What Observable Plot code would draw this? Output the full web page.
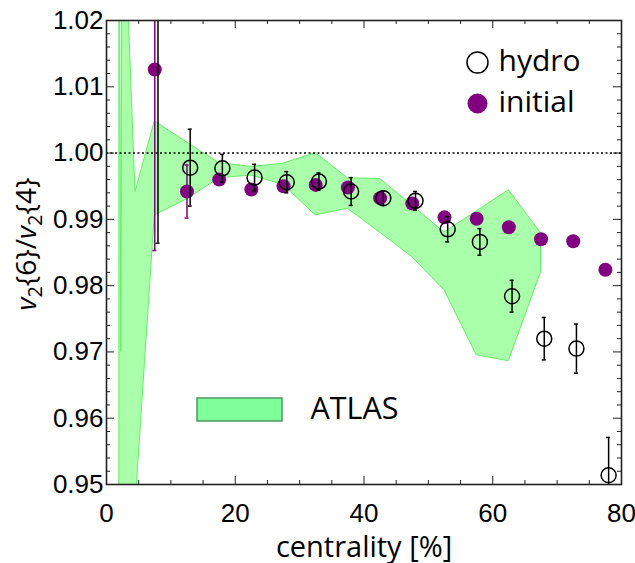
<!DOCTYPE html>
<html><head><meta charset="utf-8">
<script src="https://cdn.jsdelivr.net/npm/d3@7"></script>
<script src="https://cdn.jsdelivr.net/npm/@observablehq/plot@0.6"></script>
<style>body{margin:0;background:#fff} #chart{width:635px;height:563px}</style>
</head><body><div id="chart"></div>
<script>
// ATLAS band (centrality %, lower and upper edge)
const bandX     = [2.0, 2.3, 2.5, 4.5, 7.5, 12.5, 17.5, 22.5, 27.5, 32.5, 37.5, 42.5, 47.5, 52.5, 57.5, 62.5, 67.5];
const bandUpper = [1.06, 0.970, 1.045, 0.9941, 1.0048, 1.0016, 0.9985, 0.9979, 0.9984, 1.0000, 0.9962, 0.9961, 0.9921, 0.9880, 0.9912, 0.9944, 0.9879];
const bandLower = [0.90, 0.905, 0.909, 0.9468, 0.9906, 0.9930, 0.9962, 0.9966, 0.9952, 0.9906, 0.9916, 0.9880, 0.9843, 0.9793, 0.9695, 0.9686, 0.9820];

// hydro (open circles)
const hydroX   = [8, 13, 18, 23, 28, 33, 38, 43, 48, 53, 58, 63, 68, 73, 78];
const hydroY   = [1.032, 0.9978, 0.9977, 0.9963, 0.9956, 0.9957, 0.9942, 0.9932, 0.9928, 0.9885, 0.9866, 0.9784, 0.9720, 0.9705, 0.9514];
const hydroErr = [0.0456, 0.0058, 0.0021, 0.0020, 0.0016, 0.0013, 0.0021, 0.0011, 0.0014, 0.0019, 0.0020, 0.0024, 0.0032, 0.0037, 0.0057];

// initial (filled purple)
const initX   = [7.5, 12.5, 17.5, 22.5, 27.5, 32.5, 37.5, 42.5, 47.5, 52.5, 57.5, 62.5, 67.5, 72.5, 77.5];
const initY   = [1.0126, 0.9942, 0.9960, 0.9945, 0.9950, 0.9952, 0.9948, 0.9932, 0.9924, 0.9903, 0.9901, 0.9888, 0.9870, 0.9867, 0.9824];
const initErr = [0.0273, 0.0040, 0.0008, 0.0007, 0.0006, 0.0005, 0.0006, 0.0005, 0.0004, 0.0004, 0.0003, 0.0003, 0.0003, 0.0003, 0.0003];

// ticks
const xMajor = [0, 20, 40, 60, 80];
const xMinor = [5, 10, 15, 25, 30, 35, 45, 50, 55, 65, 70, 75];
const yMajor = [0.95, 0.96, 0.97, 0.98, 0.99, 1.00, 1.01, 1.02];
const yMinor = [0.952,0.954,0.956,0.958,0.962,0.964,0.966,0.968,0.972,0.974,0.976,0.978,0.982,0.984,0.986,0.988,0.992,0.994,0.996,0.998,1.002,1.004,1.006,1.008,1.012,1.014,1.016,1.018];

const W = 635, H = 563, mL = 106, mR = 14, mT = 20, mB = 79;
const fw = W - mL - mR, fh = H - mT - mB;
const purple = "#800080";
const band = bandX.map((x, i) => ({x, lo: bandLower[i], hi: bandUpper[i]}));
const hydro = hydroX.map((x, i) => ({x, y: hydroY[i], e: hydroErr[i]}));
const init = initX.map((x, i) => ({x, y: initY[i], e: initErr[i]}));
const lab = "Open Sans";
const num = "Liberation Sans, Arial, sans-serif";

const plot = Plot.plot({
  width: W, height: H,
  marginLeft: mL, marginRight: mR, marginTop: mT, marginBottom: mB,
  style: {background: "white", overflow: "visible"},
  x: {domain: [0, 80]},
  y: {domain: [0.95, 1.02]},
  marks: [
    Plot.areaY(band, {x: "x", y1: "lo", y2: "hi", fill: "#aaffaa", stroke: "#66ee66", strokeWidth: 1, clip: true}),
    Plot.ruleY([1.0], {stroke: "#000", strokeWidth: 1.5, strokeDasharray: "2,2.5"}),
    // initial
    Plot.ruleX(init, {x: "x", y1: d => d.y - d.e, y2: d => d.y + d.e, stroke: purple, strokeWidth: 1.5, clip: true}),
    Plot.ruleY(init, {y: d => d.y - d.e, x1: "x", x2: "x", insetLeft: -2, insetRight: -2, stroke: purple, strokeWidth: 1.5, clip: true}),
    Plot.ruleY(init, {y: d => d.y + d.e, x1: "x", x2: "x", insetLeft: -2, insetRight: -2, stroke: purple, strokeWidth: 1.5, clip: true}),
    Plot.dot(init, {x: "x", y: "y", r: 7, fill: purple, clip: true}),
    // hydro
    Plot.ruleX(hydro, {x: "x", y1: d => d.y - d.e, y2: d => d.y + d.e, stroke: "#000", strokeWidth: 1.5, clip: true}),
    Plot.ruleY(hydro, {y: d => d.y - d.e, x1: "x", x2: "x", insetLeft: -2, insetRight: -2, stroke: "#000", strokeWidth: 1.5, clip: true}),
    Plot.ruleY(hydro, {y: d => d.y + d.e, x1: "x", x2: "x", insetLeft: -2, insetRight: -2, stroke: "#000", strokeWidth: 1.5, clip: true}),
    Plot.dot(hydro, {x: "x", y: "y", r: 7.5, fill: "none", stroke: "#000", strokeWidth: 1.5, clip: true}),
    // inward ticks
    Plot.tickX(xMajor, {x: d => d, insetTop: fh - 8, stroke: "#222", strokeWidth: 1}),
    Plot.tickX(xMajor, {x: d => d, insetBottom: fh - 8, stroke: "#222", strokeWidth: 1}),
    Plot.tickX(xMinor, {x: d => d, insetTop: fh - 4, stroke: "#222", strokeWidth: 1}),
    Plot.tickX(xMinor, {x: d => d, insetBottom: fh - 4, stroke: "#222", strokeWidth: 1}),
    Plot.tickY(yMajor, {y: d => d, insetRight: fw - 8, stroke: "#222", strokeWidth: 1}),
    Plot.tickY(yMajor, {y: d => d, insetLeft: fw - 8, stroke: "#222", strokeWidth: 1}),
    Plot.tickY(yMinor, {y: d => d, insetRight: fw - 4, stroke: "#222", strokeWidth: 1}),
    Plot.tickY(yMinor, {y: d => d, insetLeft: fw - 4, stroke: "#222", strokeWidth: 1}),
    Plot.frame({stroke: "#222", strokeWidth: 1.6}),
    // axes labels
    Plot.axisX({ticks: xMajor, tickSize: 0, tickPadding: 19, fontSize: 26, fontFamily: num, label: null, tickFormat: d3.format("d")}),
    Plot.axisY({ticks: yMajor, tickSize: 0, tickPadding: 3, fontSize: 26, fontFamily: num, label: null, tickFormat: d3.format(".2f")}),
    Plot.text(["centrality [%]"], {frameAnchor: "bottom", dy: 72, lineAnchor: "bottom", text: d => d, fontSize: 29, fontFamily: lab, fill: "#000"}),
    // legend
    Plot.dot([0], {frameAnchor: "top-left", dx: 371, dy: 42, r: 10.5, fill: "none", stroke: "#000", strokeWidth: 1.5}),
    Plot.text(["hydro"], {frameAnchor: "top-left", dx: 392, dy: 50, text: d => d, textAnchor: "start", lineAnchor: "bottom", fontSize: 30, fontFamily: lab, fill: "#000"}),
    Plot.dot([0], {frameAnchor: "top-left", dx: 371, dy: 83, r: 10, fill: purple}),
    Plot.text(["initial"], {frameAnchor: "top-left", dx: 392, dy: 91, text: d => d, textAnchor: "start", lineAnchor: "bottom", fontSize: 30, fontFamily: lab, fill: "#000"}),
    Plot.rect([0], {insetLeft: 91, insetRight: 339, insetTop: 378, insetBottom: 63, fill: "#7fff99", stroke: "#4f9960", strokeWidth: 1.5}),
    Plot.text(["ATLAS"], {frameAnchor: "top-left", dx: 204, dy: 398, text: d => d, textAnchor: "start", lineAnchor: "bottom", fontSize: 30.5, fontFamily: lab, fill: "#000"})
  ]
});

// y-axis title with subscripts
const svg = d3.select(plot);
const t = svg.append("text")
  .attr("transform", "translate(36,244) rotate(-90)")
  .attr("text-anchor", "middle")
  .attr("fill", "#000")
  .style("font-family", lab)
  .style("font-size", "28px");
t.append("tspan").attr("font-style", "italic").text("v");
t.append("tspan").attr("dy", 6).style("font-size", "20px").text("2");
t.append("tspan").attr("dy", -6).text("{6}/");
t.append("tspan").attr("font-style", "italic").text("v");
t.append("tspan").attr("dy", 6).style("font-size", "20px").text("2");
t.append("tspan").attr("dy", -6).text("{4}");

document.getElementById("chart").appendChild(plot);
</script>
</body></html>
